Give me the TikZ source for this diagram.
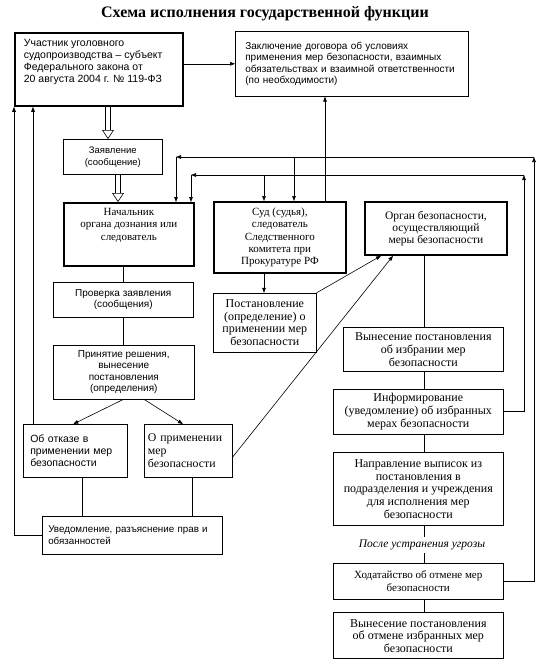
\documentclass[tikz,border=0pt]{standalone}
\usepackage{fontspec}
\setmainfont{Liberation Serif}
\setsansfont{Liberation Sans}
\usetikzlibrary{positioning, arrows.meta}

\begin{document}
\begin{tikzpicture}[
        x=1pt, y=-1pt,
        >={Triangle[length=5pt, width=3.6pt]},
        box/.style={rectangle, draw, line width=0.6pt, inner sep=2pt, align=center, anchor=north west},
        thickbox/.style={box, line width=1.8pt},
        sanstext/.style={font=\sffamily\fontsize{10}{11.5}\selectfont},
        seriftext/.style={font=\fontsize{12}{13}\selectfont},
        arrow/.style={->, line width=0.6pt},
        link/.style={line width=0.6pt},
        hollow/.style={double, double distance=4.5pt, line width=0.6pt, -{Triangle[open, length=9pt, width=12pt, line width=0.6pt]}}
    ]
        \useasboundingbox (0,0) rectangle (543,665);

        % Title
        \node[font=\bfseries\fontsize{16}{18}\selectfont] (title) at (265,14) {Схема исполнения государственной функции};

        % Top row
        \node[thickbox, sanstext, font=\sffamily\fontsize{10.5}{12.2}\selectfont, inner xsep=9pt, inner ysep=6pt] (participant) at (14,32)
            {\parbox[c][61pt][t]{150pt}{\raggedright Участник уголовного\\судопроизводства – субъект\\Федерального закона от\\20 августа 2004 г. № 119-ФЗ}};
        \node[box, sanstext, font=\sffamily\fontsize{10}{11.3}\selectfont, text width=213pt, align=left, inner xsep=10pt, minimum height=65pt] (contract) at (235,31)
            {Заключение договора об условиях\\применения мер безопасности, взаимных\\обязательствах и взаимной ответственности\\(по необходимости)};

        \node[box, sanstext, font=\sffamily\fontsize{9.5}{12}\selectfont, minimum width=99pt, minimum height=35pt] (claim) at (63,139) {Заявление\\(сообщение)};

        % Middle row
        \node[thickbox, seriftext, font=\fontsize{11}{12.5}\selectfont, inner xsep=3pt, inner ysep=5pt] (chief) at (63,202)
            {\parbox[c][53pt][t]{124pt}{\centering Начальник\\органа дознания или\\следователь}};
        \node[thickbox, seriftext, font=\fontsize{11}{12.4}\selectfont, minimum width=132pt, minimum height=71pt] (court) at (213,201)
            {Суд (судья),\\следователь\\Следственного\\комитета при\\Прокуратуре РФ};
        \node[thickbox, seriftext, font=\fontsize{11.5}{12.2}\selectfont, minimum width=142pt, minimum height=53pt] (security) at (364,201)
            {Орган безопасности,\\осуществляющий\\меры безопасности};

        % Left column
        \node[box, sanstext, minimum width=140pt, minimum height=35pt] (check) at (53,282) {Проверка заявления\\(сообщения)};
        \node[box, sanstext, minimum width=141pt, minimum height=54pt, below=27pt of check.south west, anchor=north west] (decision)
            {Принятие решения,\\вынесение\\постановления\\(определения)};
        \node[box, sanstext, font=\sffamily\fontsize{10.5}{12}\selectfont, text width=90pt, align=left, inner xsep=7pt, minimum height=53pt] (refusal) at (23,424)
            {Об отказе в\\применении мер\\безопасности};
        \node[box, seriftext, font=\fontsize{11.8}{13}\selectfont, text width=80pt, align=left, inner xsep=4pt, minimum height=53pt, right=16pt of refusal.north east, anchor=north west] (apply)
            {О применении\\мер\\безопасности};
        \node[box, sanstext, font=\sffamily\fontsize{9.8}{12}\selectfont, text width=168pt, align=left, inner xsep=6pt, minimum height=38pt] (notice) at (42,516)
            {Уведомление, разъяснение прав и\\обязанностей};

        % Resolution of the court
        \node[box, seriftext, font=\fontsize{12}{12.5}\selectfont, minimum width=103pt, minimum height=59pt, below=19pt of court.south west, anchor=north west] (resolution)
            {Постановление\\(определение) о\\применении мер\\безопасности};

        % Right column
        \node[box, seriftext, minimum width=160pt, minimum height=44pt] (choose) at (343,327)
            {Вынесение постановления\\об избрании мер\\безопасности};
        \node[box, seriftext, minimum width=170pt, minimum height=45pt, below=17pt of choose.south east, anchor=north east] (inform)
            {Информирование\\(уведомление) об избранных\\мерах безопасности};
        \node[box, seriftext, font=\fontsize{12}{12.8}\selectfont, minimum width=170pt, minimum height=73pt, below=18pt of inform.south east, anchor=north east] (send)
            {Направление выписок из\\постановления в\\подразделения и учреждения\\для исполнения мер\\безопасности};
        \node[font=\itshape\fontsize{11.5}{13}\selectfont, inner sep=3pt] (after) at (422,545) {После устранения угрозы};
        \node[box, seriftext, font=\fontsize{11}{12.5}\selectfont, minimum width=170pt, minimum height=36pt, below=37pt of send.south east, anchor=north east] (petition)
            {Ходатайство об отмене мер\\безопасности};
        \node[box, seriftext, font=\fontsize{12}{12.5}\selectfont, minimum width=170pt, minimum height=46pt, below=13pt of petition.south east, anchor=north east] (cancel)
            {Вынесение постановления\\об отмене избранных мер\\безопасности};

        % Helper points
        \coordinate (xdbla) at (108,0);
        \coordinate (xdblb) at (118,0);
        \coordinate (xcontract) at (325,0);
        \coordinate (xinner) at (33,0);
        \coordinate (xrefusal) at (82,0);
        \coordinate (xapply) at (192,0);
        \coordinate (spine) at (424,0);
        \coordinate (loopAright) at (534,157);
        \coordinate (loopAleft) at (176,157);
        \coordinate (loopAcourt) at (294,157);
        \coordinate (loopBright) at (524,175);
        \coordinate (loopBleft) at (191,175);
        \coordinate (loopBcourt) at (264,175);

        % Arrows
        \draw[arrow] (contract.west -| participant.east) -- (contract.west);
        \draw[hollow] (participant.south -| xdbla) -- (claim.north -| xdbla);
        \draw[hollow] (claim.south -| xdblb) -- (chief.north -| xdblb);
        \draw[arrow] (court.north -| xcontract) -- (contract.south -| xcontract);

        \draw[arrow] (petition.east) -| (loopAright);
        \draw[arrow] (loopAright) -- (loopAleft);
        \draw[arrow] (loopAleft) -- (loopAleft |- chief.north);
        \draw[arrow] (loopAcourt) -- (loopAcourt |- court.north);

        \draw[arrow] (inform.east) -| (loopBright);
        \draw[arrow] (loopBright) -- (loopBleft);
        \draw[arrow] (loopBleft) -- (loopBleft |- chief.north);
        \draw[arrow] (loopBcourt) -- (loopBcourt |- court.north);

        \draw[arrow] (court.south -| loopBcourt) -- (resolution.north -| loopBcourt);
        \draw[arrow] (resolution.north east) -- ([xshift=17pt]security.south west);
        \draw[arrow] ([yshift=20pt]apply.south east) -- ([xshift=29pt]security.south west);

        \draw[link] (chief.south -| check.north) -- (check.north);
        \draw[link] (check.south) -- (check.south |- decision.north);
        \draw[arrow] (decision.south) -- ([xshift=-2pt]refusal.north);
        \draw[arrow] ([xshift=20pt]decision.south) -- ([xshift=-5pt]apply.north);
        \draw[link] (refusal.south -| xrefusal) -- (notice.north -| xrefusal);
        \draw[link] (apply.south -| xapply) -- (notice.north -| xapply);
        \draw[arrow] (notice.west) -| (participant.south west);
        \draw[arrow] (refusal.north -| xinner) -- (participant.south -| xinner);

        \draw[link] (security.south -| spine) -- (choose.north -| spine);
        \draw[link] (choose.south -| spine) -- (inform.north -| spine);
        \draw[link] (inform.south -| spine) -- (send.north -| spine);
        \draw[link] (send.south -| spine) -- (after.north -| spine);
        \draw[link] (after.south -| spine) -- (petition.north -| spine);
        \draw[link] (petition.south -| spine) -- (cancel.north -| spine);
    \end{tikzpicture}
\end{document}
